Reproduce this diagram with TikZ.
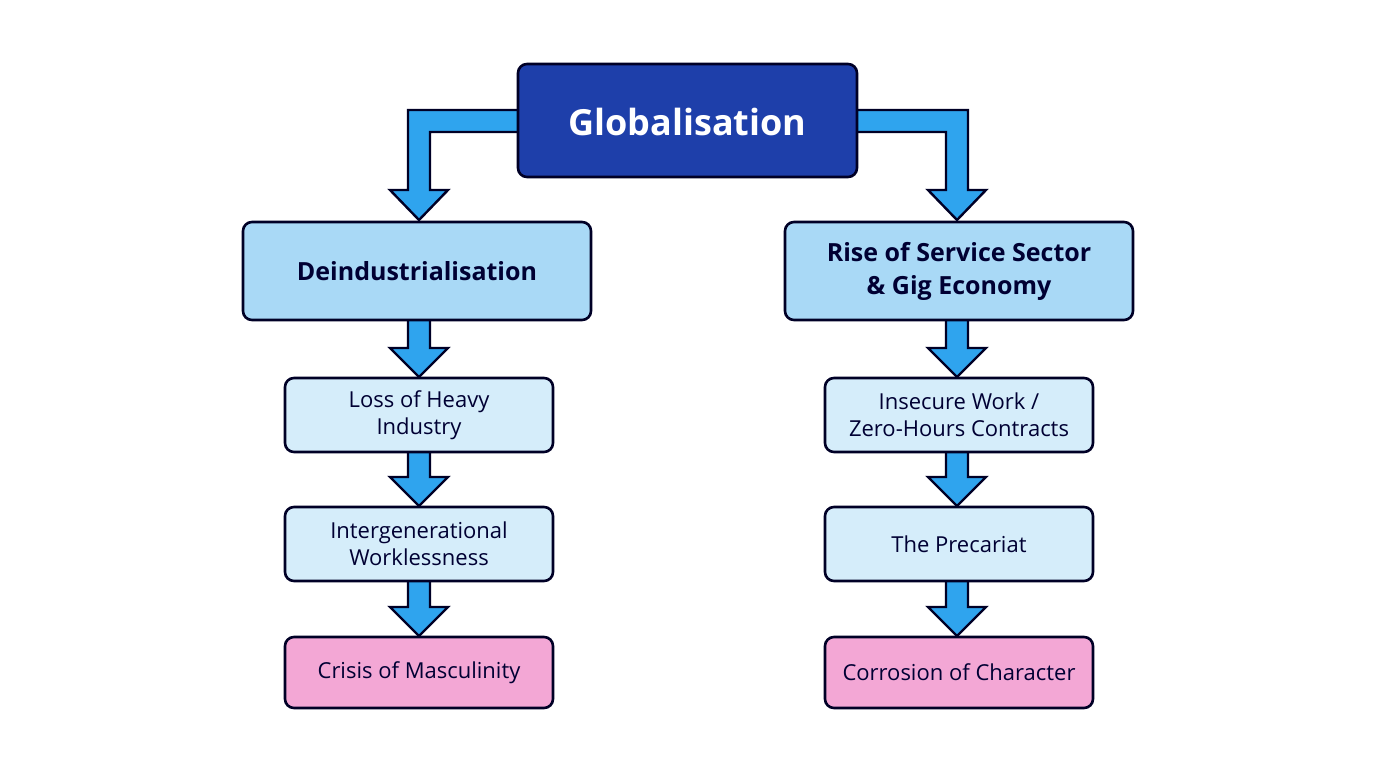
\documentclass[tikz,border=0pt]{standalone}
\usepackage{fontspec}
\setmainfont{Open Sans}
\begin{document}
\begin{tikzpicture}[x=1pt,y=-1pt,
 box/.style={draw=black!85!blue,line width=2.6pt,rounded corners=9pt},
 arr/.style={fill=arc,draw=black!85!blue,line width=2.4pt,line join=miter},
 gl/.style={text=white,font=\fontsize{36}{44}\selectfont\bfseries},
 ml/.style={text=black!80!blue,align=center,font=\fontsize{25}{33}\selectfont\bfseries},
 lab/.style={font=\fontsize{22}{27}\selectfont,text=black!80!blue,align=center}]
\definecolor{topc}{HTML}{1E3FAA}
\definecolor{midc}{HTML}{A9D9F6}
\definecolor{smc}{HTML}{D5EDFA}
\definecolor{pkc}{HTML}{F3A7D5}
\definecolor{arc}{HTML}{2FA4EE}
\useasboundingbox (0,0) rectangle (1376,768);
% arrows from top
\draw[arr] (530,110) -- (408,110) -- (408,190) -- (390,190) -- (419,220) -- (448,190) -- (430,190) -- (430,132) -- (530,132);
\draw[arr] (845,110) -- (968,110) -- (968,190) -- (986,190) -- (957,220) -- (928,190) -- (946,190) -- (946,132) -- (845,132);
% vertical arrows
\foreach \cx in {419,957}{
 \foreach \a/\b in {310/377,442/506,571/636}{
  \draw[arr] (\cx-11,\a) -- (\cx-11,\b-29) -- (\cx-29,\b-29) -- (\cx,\b) -- (\cx+29,\b-29) -- (\cx+11,\b-29) -- (\cx+11,\a);
 }}
\path[box,fill=topc] (518,64) rectangle (857,177);
\node[gl] (g) at (687.5,122) {Globalisation};
\path[box,fill=midc] (243,222) rectangle (591,320);
\node[ml] (d) at (417,271) {Deindustrialisation};
\path[box,fill=midc] (785,222) rectangle (1133,320);
\node[ml] (r) at (959,271) {Rise of Service Sector\\\& Gig Economy};
\path[box,fill=smc] (285,378) rectangle (553,452); \node[lab] (l1) at (419,415) {Loss of Heavy\\Industry};
\path[box,fill=smc] (285,507) rectangle (553,581); \node[lab] (l2) at (419,544) {Intergenerational\\Worklessness};
\path[box,fill=pkc] (285,637) rectangle (553,708); \node[lab] (l3) at (419,672.5) {Crisis of Masculinity};
\path[box,fill=smc] (825,378) rectangle (1093,452); \node[lab] (r1) at (959,415) {Insecure Work /\\Zero-Hours Contracts};
\path[box,fill=smc] (825,507) rectangle (1093,581); \node[lab] (r2) at (959,544) {The Precariat};
\path[box,fill=pkc] (825,637) rectangle (1093,708); \node[lab] (r3) at (959,672.5) {Corrosion of Character};
\end{tikzpicture}
\end{document}
